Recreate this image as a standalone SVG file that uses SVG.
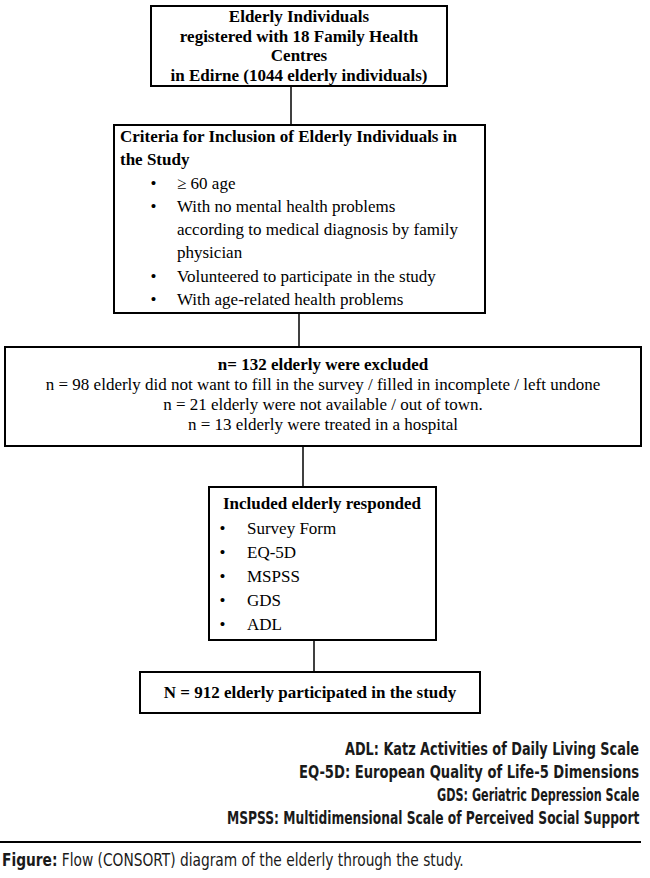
<svg xmlns="http://www.w3.org/2000/svg" width="650" height="878" viewBox="0 0 650 878">
<style>
.box{fill:#fff;stroke:#000;stroke-width:2}
.ln{stroke:#000;stroke-width:1.5;fill:none}
.t{font-family:"Liberation Serif","Times New Roman",serif;font-size:17px;fill:#000}
.b{font-weight:bold}
.c{text-anchor:middle}
.lg{font-family:"DejaVu Sans Condensed","Liberation Sans",sans-serif;font-size:18px;font-weight:bold;fill:#1a1a1a}
.cap{font-family:"DejaVu Sans Condensed","Liberation Sans",sans-serif;font-size:17px;fill:#1a1a1a}
</style>
<rect width="650" height="878" fill="#fff"/>
<g id="connectors">
<line class="ln" x1="291" y1="86" x2="291" y2="125"/>
<line class="ln" x1="299" y1="313" x2="299" y2="347"/>
<line class="ln" x1="303" y1="446" x2="303" y2="487"/>
<line class="ln" x1="314" y1="640" x2="314" y2="672"/>
</g>
<g id="source">
<rect class="box" x="151" y="6" width="296" height="80"/>
<text class="t b c" x="299" y="22">Elderly Individuals</text>
<text class="t b c" x="299" y="41.5">registered with 18 Family Health</text>
<text class="t b c" x="299" y="61">Centres</text>
<text class="t b c" x="299" y="80.5">in Edirne (1044 elderly individuals)</text>
</g>
<g id="criteria">
<rect class="box" x="114" y="125" width="371" height="188"/>
<text class="t b" x="120" y="142">Criteria for Inclusion of Elderly Individuals in</text>
<text class="t b" x="120" y="165">the Study</text>
<text class="t c" x="153.5" y="189">•</text>
<text class="t" x="177" y="189">≥ 60 age</text>
<text class="t c" x="153.5" y="212">•</text>
<text class="t" x="177" y="212">With no mental health problems</text>
<text class="t" x="177" y="235">according to medical diagnosis by family</text>
<text class="t" x="177" y="258">physician</text>
<text class="t c" x="153.5" y="282">•</text>
<text class="t" x="177" y="282">Volunteered to participate in the study</text>
<text class="t c" x="153.5" y="305">•</text>
<text class="t" x="177" y="305">With age-related health problems</text>
</g>
<g id="excluded">
<rect class="box" x="5" y="347" width="636" height="99"/>
<text class="t b c" x="323" y="370">n= 132 elderly were excluded</text>
<text class="t c" x="323" y="390">n = 98 elderly did not want to fill in the survey / filled in incomplete / left undone</text>
<text class="t c" x="323" y="410">n = 21 elderly were not available / out of town.</text>
<text class="t c" x="323" y="430">n = 13 elderly were treated in a hospital</text>
</g>
<g id="responded">
<rect class="box" x="209" y="487" width="227" height="153"/>
<text class="t b" x="223" y="509">Included elderly responded</text>
<text class="t c" x="222.5" y="534">•</text>
<text class="t" x="247" y="534">Survey Form</text>
<text class="t c" x="222.5" y="558">•</text>
<text class="t" x="247" y="558">EQ-5D</text>
<text class="t c" x="222.5" y="582">•</text>
<text class="t" x="247" y="582">MSPSS</text>
<text class="t c" x="222.5" y="606">•</text>
<text class="t" x="247" y="606">GDS</text>
<text class="t c" x="222.5" y="630">•</text>
<text class="t" x="247" y="630">ADL</text>
</g>
<g id="participated">
<rect class="box" x="140" y="672" width="340" height="41"/>
<text class="t b c" x="310" y="698">N =  912 elderly participated in the study</text>
</g>
<g id="legend">
<text class="lg" transform="translate(345,755) scale(0.7,1)" x="0" y="0" textLength="420" lengthAdjust="spacingAndGlyphs">ADL: Katz Activities of Daily Living Scale</text>
<text class="lg" transform="translate(299,778) scale(0.7,1)" x="0" y="0" textLength="486" lengthAdjust="spacingAndGlyphs">EQ-5D: European Quality of Life-5 Dimensions</text>
<text class="lg" transform="translate(437,801) scale(0.7,1)" x="0" y="0" textLength="289" lengthAdjust="spacingAndGlyphs">GDS: Geriatric Depression Scale</text>
<text class="lg" transform="translate(227,824) scale(0.7,1)" x="0" y="0" textLength="589" lengthAdjust="spacingAndGlyphs">MSPSS: Multidimensional Scale of Perceived Social Support</text>
</g>
<g id="caption">
<line x1="0" y1="842" x2="641" y2="842" stroke="#000" stroke-width="2"/>
<text class="cap" transform="translate(2,866) scale(0.8,1)" x="0" y="0" textLength="577" lengthAdjust="spacingAndGlyphs"><tspan font-weight="bold">Figure:</tspan> Flow (CONSORT) diagram of the elderly through the study.</text>
</g>
</svg>
